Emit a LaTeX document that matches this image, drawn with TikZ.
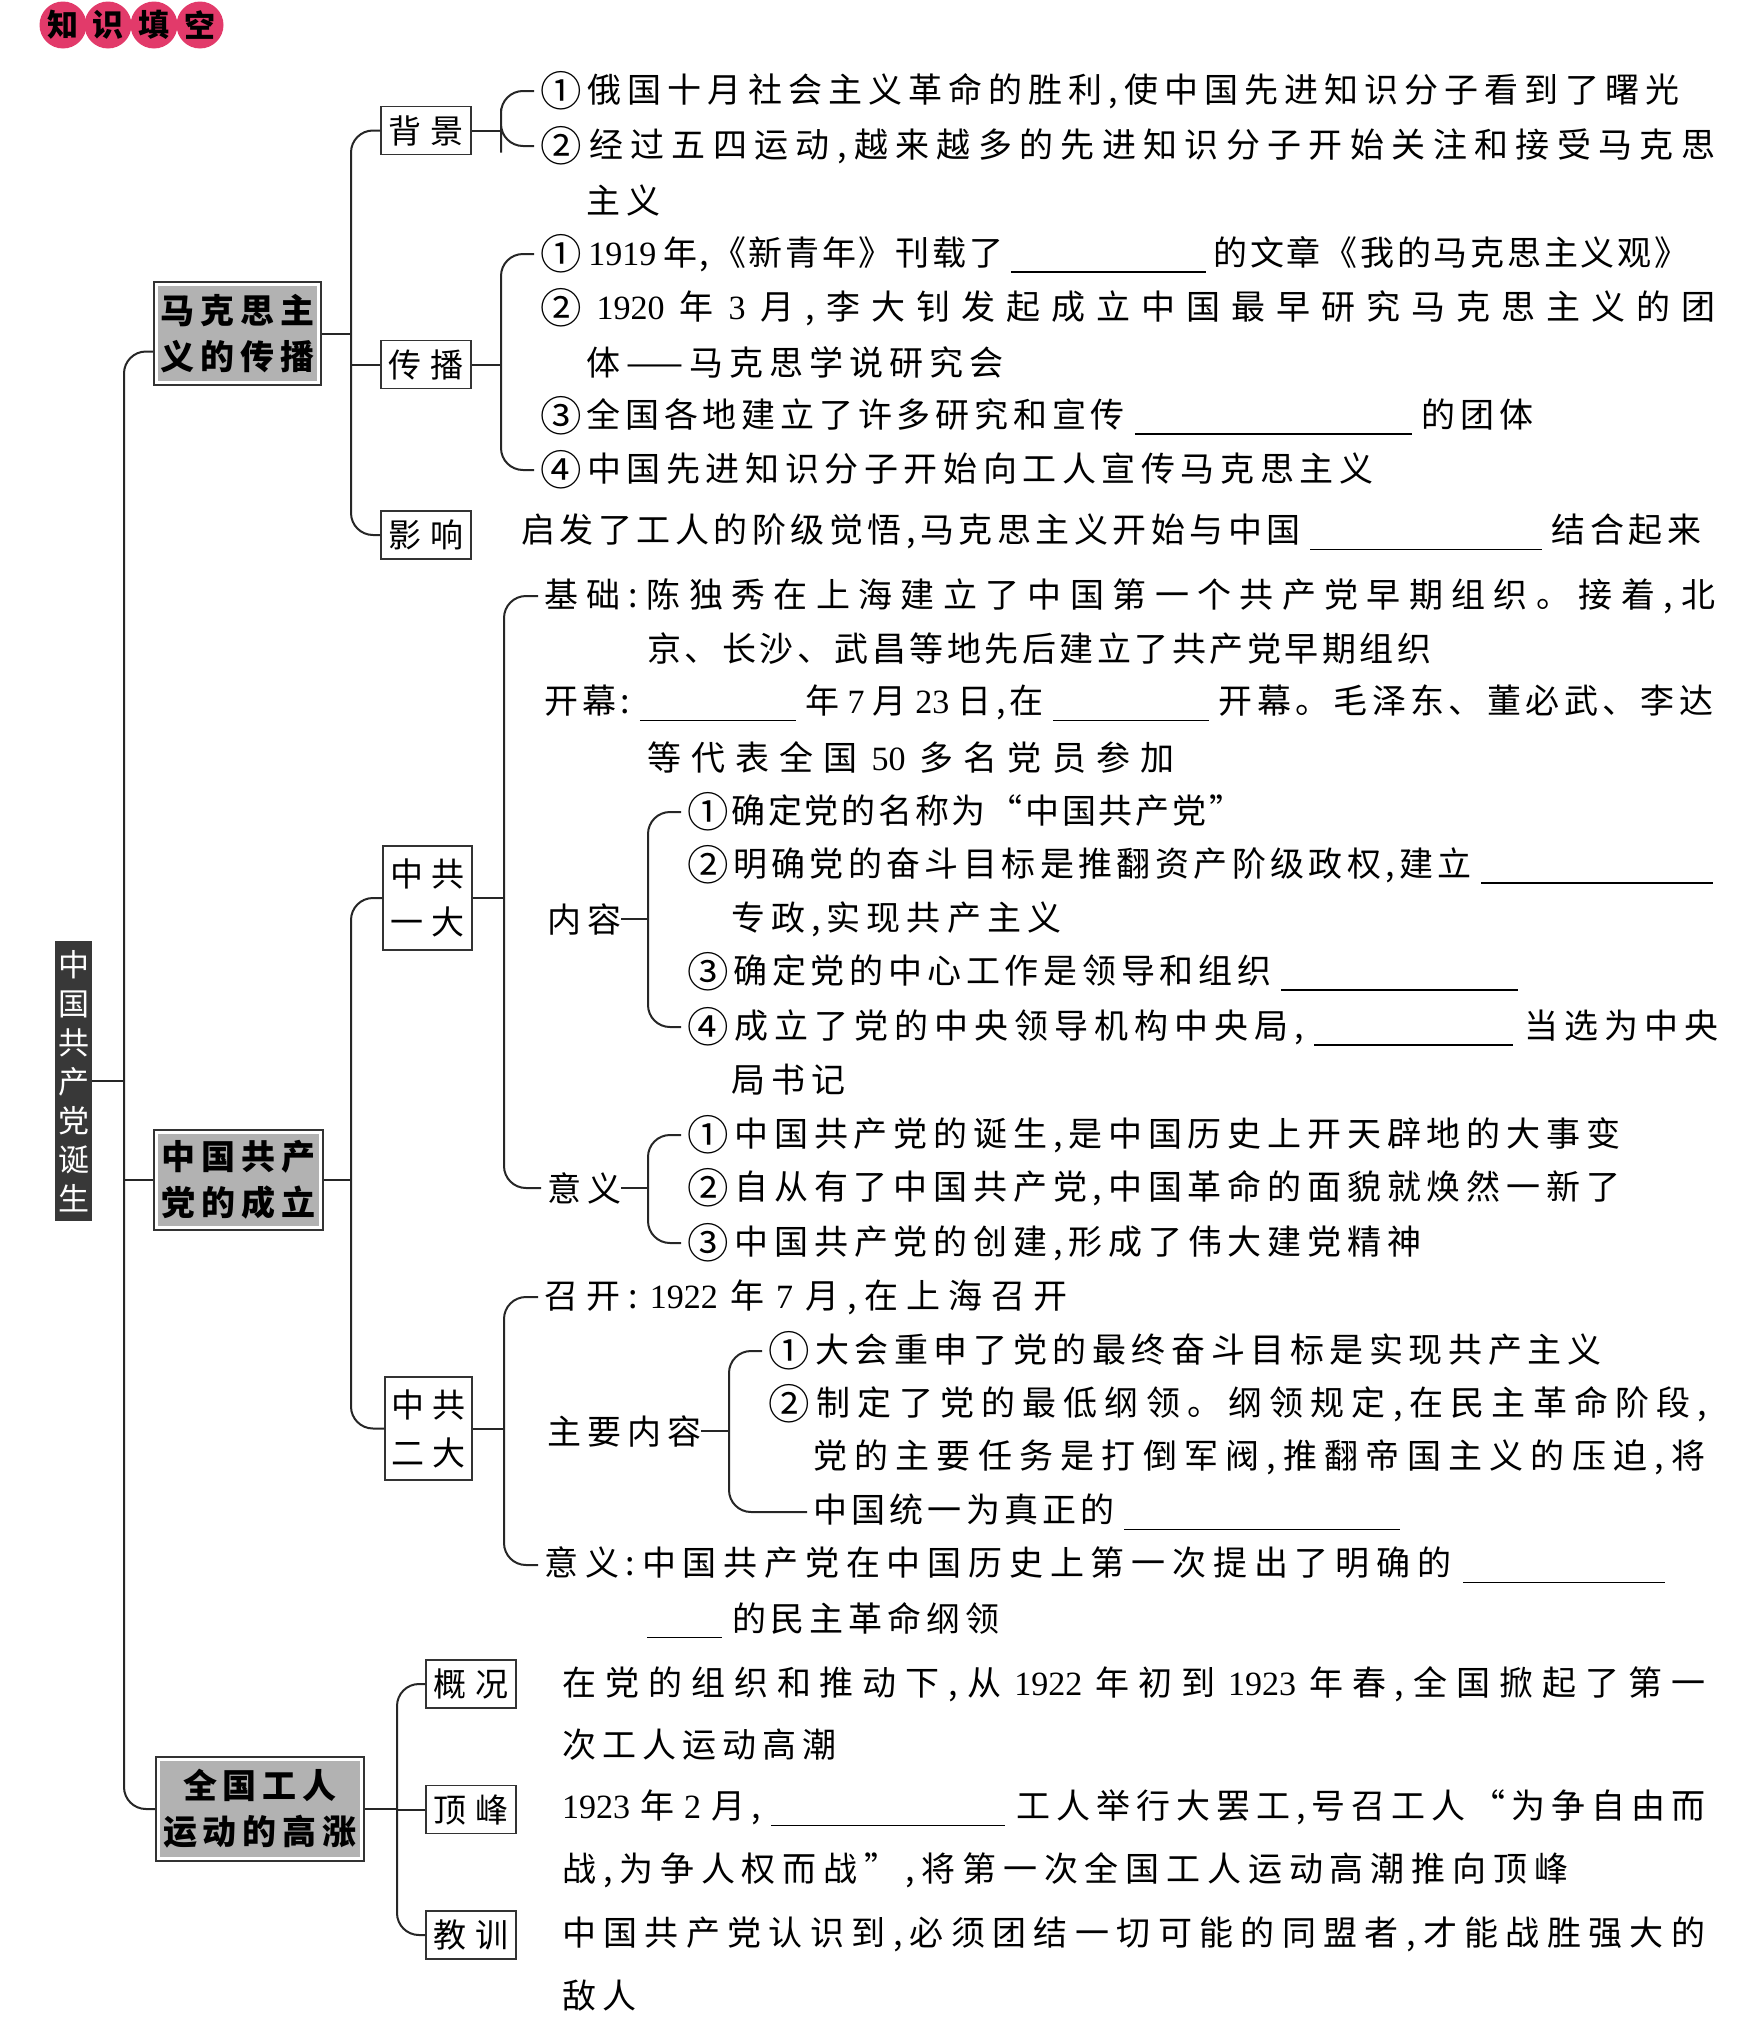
\documentclass[tikz,border=0pt]{standalone}
\usepackage{fontspec}
\setmainfont{Liberation Serif}
\newfontfamily\cjk{Noto Sans CJK SC}
\usetikzlibrary{calc}
\newcommand\dg[1]{{\rmfamily\hspace{4pt}#1\hspace{4pt}}}
\newcommand\cn[1]{\raisebox{-4pt}{\scalebox{1.22}{#1}}}
\newcommand\blank[1]{\hspace{5pt}\rule[-7pt]{#1pt}{1.3pt}\hspace{5pt}}
\def\spend{spend-marker}
\def\sprfirst#1{\ifx\spend#1\else#1\expandafter\spr\fi}
\def\spr#1{\ifx\spend#1\else\sprglue#1\expandafter\spr\fi}
\newcommand\jl[2]{\hbox to #1pt{\def\sprglue{\hskip 0pt plus 1fil\relax}\sprfirst#2\spend}}
\newcommand\sg[2]{\hbox{\def\sprglue{\hskip #1pt\relax}\sprfirst#2\spend}}
\newcommand\nl[1]{\sg{6}{#1}}
\definecolor{pinkc}{RGB}{226,58,106}
\tikzset{
 txt/.style={anchor=west, inner sep=0pt, font=\cjk\fontsize{34}{40}\selectfont},
 conn/.style={line width=2pt, draw=black!85},
 brk/.style={conn, rounded corners=22pt},
 lvone/.style={draw=black!80, line width=1.6pt, fill=white, align=center, inner sep=0pt,
   font=\cjk\bfseries\fontsize{34}{46}\selectfont,
   path picture={\fill[black!30] ([shift={(4pt,-4pt)}]path picture bounding box.north west) rectangle ([shift={(-4pt,4pt)}]path picture bounding box.south east);}},
 lvtwo/.style={draw=black!80, line width=1.5pt, fill=white, align=center, inner sep=0pt,
   font=\cjk\fontsize{33}{48}\selectfont,
   minimum width=90pt, minimum height=48pt},
 rootbox/.style={fill=black!78, text=white, align=center, inner sep=0pt,
   font=\cjk\fontsize{31}{39}\selectfont, minimum width=37pt, minimum height=280pt},
 badge/.style={circle, fill=pinkc, minimum size=47pt, inner sep=0pt,
   font=\cjk\bfseries\fontsize{31}{31}\selectfont}
}
\begin{document}
\begin{tikzpicture}[x=1pt,y=-1pt]
\useasboundingbox (0,0) rectangle (1762,2040);
% badge
\node[badge] (c1) at (63,25) {知};
\node[badge] (c2) at (108,25) {识};
\node[badge] (c3) at (154,25) {填};
\node[badge] (c4) at (200,25) {空};
% root and level 1
\node[rootbox] (root) at (73.5,1081) {中\\国\\共\\产\\党\\诞\\生};
\node[lvone, minimum width=167pt, minimum height=103pt] (b1) at (237.5,333.5) {\sg{6}{马克思主}\\\sg{6}{义的传播}};
\node[lvone, minimum width=169pt, minimum height=100pt] (b2) at (238.5,1180) {\sg{6}{中国共产}\\\sg{6}{党的成立}};
\node[lvone, minimum width=208pt, minimum height=104pt] (b3) at (260,1809) {\sg{6}{全国工人}\\\sg{6}{运动的高涨}};
% level 2
\node[lvtwo] (bj) at (426,130.5) {\sg{9}{背景}};
\node[lvtwo] (cb) at (426,364.5) {\sg{9}{传播}};
\node[lvtwo] (yx) at (426,535) {\sg{9}{影响}};
\node[lvtwo, minimum width=89pt, minimum height=104pt] (yd) at (427.5,898) {\sg{9}{中共}\\\sg{9}{一大}};
\node[lvtwo, minimum width=87pt, minimum height=103pt] (ed) at (428.5,1428.5) {\sg{9}{中共}\\\sg{9}{二大}};
\node[lvtwo] (gk) at (471,1684) {\sg{9}{概况}};
\node[lvtwo] (df) at (471,1809.5) {\sg{9}{顶峰}};
\node[lvtwo] (jx) at (471,1935) {\sg{9}{教训}};
% texts: Marxism
\node[txt] (bj1) at (540,91) {\jl{1139}{{\cn{①}}俄国十月社会主义革命的胜利,使中国先进知识分子看到了曙光}};
\node[txt] (bj2) at (540,146) {\jl{1175}{{\cn{②}}经过五四运动,越来越多的先进知识分子开始关注和接受马克思}};
\node[txt] (bj3) at (586,200) {\nl{主义}};
\node[txt] (cb1) at (540,254) {\jl{1148}{{\cn{①}}{\dg{1919}}年,《新青年》刊载了{\blank{195}}的文章《我的马克思主义观》}};
\node[txt] (cb2) at (540,308) {\jl{1175}{{\cn{②}}{\dg{1920}}年{\dg{3}}月,李大钊发起成立中国最早研究马克思主义的团}};
\node[txt] (cb3) at (586,362) {\nl{体{——}马克思学说研究会}};
\node[txt] (cb4) at (540,416) {\jl{993}{{\cn{③}}全国各地建立了许多研究和宣传{\blank{277}}的团体}};
\node[txt] (cb5) at (540,470) {\jl{833}{{\cn{④}}中国先进知识分子开始向工人宣传马克思主义}};
\node[txt] (yx1) at (521,532) {\jl{1180}{启发了工人的阶级觉悟,马克思主义开始与中国{\blank{232}}结合起来}};
% first congress
\node[txt] (jc1) at (544,596) {\jl{1171}{基础:陈独秀在上海建立了中国第一个共产党早期组织。接着,北}};
\node[txt] (jc2) at (647,649) {\jl{784}{京、长沙、武昌等地先后建立了共产党早期组织}};
\node[txt] (km1) at (544,703) {\jl{1169}{开幕:{\blank{156}}年{\dg{7}}月{\dg{23}}日,在{\blank{156}}开幕。毛泽东、董必武、李达}};
\node[txt] (km2) at (647,757) {\jl{527}{等代表全国{\dg{50}}多名党员参加}};
\node[txt] (nr) at (547,919) {\nl{内容}};
\node[txt] (nr1) at (687,812) {\jl{556}{{\cn{①}}确定党的名称为“中国共产党”}};
\node[txt] (nr2) at (687,865) {\jl{1031}{{\cn{②}}明确党的奋斗目标是推翻资产阶级政权,建立{\blank{232}}}};
\node[txt] (nr2b) at (731,919) {\jl{330}{专政,实现共产主义}};
\node[txt] (nr3) at (687,972) {\jl{836}{{\cn{③}}确定党的中心工作是领导和组织{\blank{237}}}};
\node[txt] (nr4) at (687,1027) {\jl{1031}{{\cn{④}}成立了党的中央领导机构中央局,{\blank{199}}当选为中央}};
\node[txt] (nr4b) at (731,1080) {\nl{局书记}};
\node[txt] (yy) at (547,1188) {\nl{意义}};
\node[txt] (yy1) at (687,1135) {\jl{933}{{\cn{①}}中国共产党的诞生,是中国历史上开天辟地的大事变}};
\node[txt] (yy2) at (687,1188) {\jl{933}{{\cn{②}}自从有了中国共产党,中国革命的面貌就焕然一新了}};
\node[txt] (yy3) at (687,1243) {\jl{734}{{\cn{③}}中国共产党的创建,形成了伟大建党精神}};
% second congress
\node[txt] (zk) at (544,1297) {\jl{523}{召开:{\dg{1922}}年{\dg{7}}月,在上海召开}};
\node[txt] (zn) at (547,1431) {\nl{主要内容}};
\node[txt] (zn1) at (768,1351) {\jl{833}{{\cn{①}}大会重申了党的最终奋斗目标是实现共产主义}};
\node[txt] (zn2) at (768,1404) {\jl{939}{{\cn{②}}制定了党的最低纲领。纲领规定,在民主革命阶段,}};
\node[txt] (zn2b) at (813,1457) {\jl{892}{党的主要任务是打倒军阀,推翻帝国主义的压迫,将}};
\node[txt] (zn2c) at (813,1512) {\jl{592}{中国统一为真正的{\blank{276}}}};
\node[txt] (ey) at (544,1565) {\jl{1126}{意义:中国共产党在中国历史上第一次提出了明确的{\blank{202}}}};
\node[txt] (ey2) at (642,1620) {\jl{357}{{\blank{75}}的民主革命纲领}};
% workers movement
\node[txt] (gk1) at (562,1684) {\jl{1143}{在党的组织和推动下,从{\dg{1922}}年初到{\dg{1923}}年春,全国掀起了第一}};
\node[txt] (gk2) at (562,1745) {\nl{次工人运动高潮}};
\node[txt] (df1) at (558,1808) {\jl{1147}{{\dg{1923}}年{\dg{2}}月,{\blank{234}}工人举行大罢工,号召工人“为争自由而}};
\node[txt] (df2) at (562,1870) {\jl{1006}{战,为争人权而战”,将第一次全国工人运动高潮推向顶峰}};
\node[txt] (jx1) at (562,1934) {\jl{1143}{中国共产党认识到,必须团结一切可能的同盟者,才能战胜强大的}};
\node[txt] (jx2) at (562,1996) {\nl{敌人}};
% junction coordinates
\coordinate (tk) at (124,1081);
\coordinate (v1) at (351,333.5);
\coordinate (v11) at (501,130.5);
\coordinate (v12) at (501,364.5);
\coordinate (v2) at (351,1180);
\coordinate (v4) at (504,898);
\coordinate (v5) at (648,919);
\coordinate (v6) at (648,1188);
\coordinate (v7) at (504,1428.5);
\coordinate (v8) at (729,1431);
\coordinate (v3) at (397,1809);
% connectors
\draw[conn] (root.east) -- (tk);
\draw[brk] ($(b1.west)+(0,18)$) -| (tk) |- (b3.west);
\draw[conn] (b2.west) -- (tk |- b2.west);
\draw[conn] (b1.east) -- (v1);
\draw[brk] (bj.west) -| (v1) |- (yx.west);
\draw[conn] (cb.west) -- (v1 |- cb.west);
\draw[conn] (bj.east) -- (v11);
\draw[brk] ([xshift=-6pt]bj1.west) -| (v11) |- ([xshift=-6pt]bj2.west);
\draw[conn] (cb.east) -- (v12);
\draw[brk] ([xshift=-6pt]cb1.west) -| (v12) |- ([xshift=-6pt]cb5.west);
\draw[conn] (b2.east) -- (v2);
\draw[brk] (yd.west) -| (v2) |- (ed.west);
\draw[conn] (yd.east) -- (v4);
\draw[brk] ([xshift=-6pt]jc1.west) -| (v4) |- ([xshift=-6pt]yy.west);
\draw[conn] (nr.east) -- (v5);
\draw[brk] ([xshift=-6pt]nr1.west) -| (v5) |- ([xshift=-6pt]nr4.west);
\draw[conn] (yy.east) -- (v6);
\draw[brk] ([xshift=-6pt]yy1.west) -| (v6) |- ([xshift=-6pt]yy3.west);
\draw[conn] (ed.east) -- (v7);
\draw[brk] ([xshift=-6pt]zk.west) -| (v7) |- ([xshift=-6pt]ey.west);
\draw[conn] (zn.east) -- (v8);
\draw[brk] ([xshift=-6pt]zn1.west) -| (v8) |- ([xshift=-6pt]zn2c.west);
\draw[conn] (b3.east) -- (v3);
\draw[brk] (gk.west) -| (v3) |- (jx.west);
\draw[conn] (df.west) -- (v3 |- df.west);
\end{tikzpicture}
\end{document}
